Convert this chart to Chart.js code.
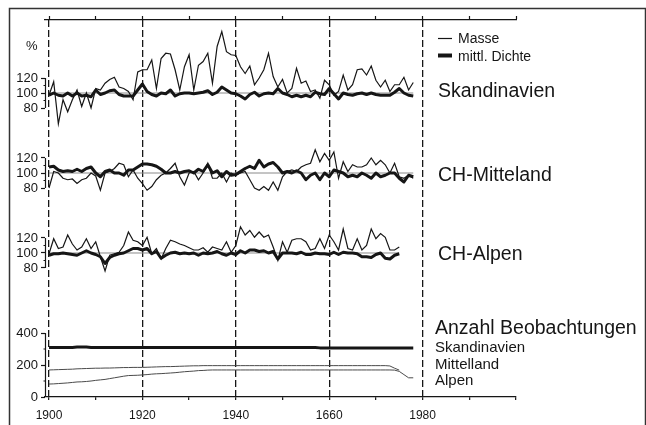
<!DOCTYPE html>
<html>
<head>
<meta charset="utf-8">
<script src="https://cdn.jsdelivr.net/npm/chart.js@4/dist/chart.umd.min.js"></script>
<style>
  html, body { margin: 0; padding: 0; background: #fff; }
  #wrap { width: 646px; height: 425px; }
</style>
</head>
<body>
<div id="wrap"><canvas id="chart" width="646" height="425"></canvas></div>
<script>
// years of the series
const years = [1900,1901,1902,1903,1904,1905,1906,1907,1908,1909,
  1910,1911,1912,1913,1914,1915,1916,1917,1918,1919,
  1920,1921,1922,1923,1924,1925,1926,1927,1928,1929,
  1930,1931,1932,1933,1934,1935,1936,1937,1938,1939,
  1940,1941,1942,1943,1944,1945,1946,1947,1948,1949,
  1950,1951,1952,1953,1954,1955,1956,1957,1958,1959,
  1960,1961,1962,1963,1964,1965,1966,1967,1968,1969,
  1970,1971,1972,1973,1974,1975,1976,1977,1978];

// Skandinavien (%)
const skandMasse = [97,115,59,91,75,91,104,82,100,80,
  106,104,113,118,121,108,106,102,91,128,
  131,131,144,106,146,153,152,131,104,135,
  151,104,137,142,153,113,162,182,155,151,
  150,135,126,136,111,120,131,153,122,108,
  118,100,106,133,113,116,102,104,93,117,
  111,97,102,124,104,111,131,132,124,136,
  117,108,117,102,111,111,121,104,114];
const skandDichte = [97,100,97,96,100,96,100,96,97,95,
  104,98,100,103,104,98,96,96,96,104,
  112,102,98,96,100,99,104,96,99,100,
  100,99,100,101,103,98,101,108,104,100,
  99,96,92,98,101,96,99,100,99,106,
  100,98,95,97,95,97,95,101,99,98,
  106,99,92,100,98,97,99,100,98,100,
  98,97,97,97,101,106,100,97,96];

// CH-Mitteland (%)
const mittMasse = [80,102,100,93,91,92,86,91,93,100,
  96,77,100,102,106,113,111,95,104,93,
  86,77,82,91,97,100,106,113,95,84,
  100,102,91,100,113,93,93,100,88,100,
  97,100,102,91,80,77,82,77,88,77,
  95,102,104,102,108,111,113,131,115,126,
  117,128,93,115,102,111,108,108,111,120,
  111,117,111,100,113,95,93,97,93];
const mittDichte = [108,109,104,102,103,102,105,102,106,108,
  100,95,102,104,100,100,97,104,104,108,
  112,112,111,109,105,100,100,102,100,102,
  103,100,105,102,111,100,103,95,102,97,
  98,102,106,109,106,117,108,112,114,108,
  100,102,100,103,100,91,97,100,91,100,
  95,104,102,100,95,97,95,100,97,93,
  100,95,97,100,100,93,88,97,95];

// CH-Alpen (%)
const alpMasse = [99,119,106,108,124,112,104,108,119,106,
  115,95,76,97,99,101,110,128,117,115,
  110,121,99,106,92,106,117,115,112,110,
  107,104,104,107,101,108,106,104,115,101,
  110,135,124,130,121,128,121,124,108,90,
  115,101,117,119,119,115,104,106,119,106,
  124,115,104,132,106,104,119,104,110,132,
  119,126,121,104,104,108,null,null,null];
const alpDichte = [97,99,99,100,99,98,97,100,103,100,
  98,95,86,94,97,99,100,103,106,106,
  104,106,99,102,93,97,100,101,99,100,
  99,100,97,100,99,100,102,99,97,100,
  98,103,100,104,104,102,103,100,102,92,
  100,100,100,99,101,98,98,100,99,99,
  98,101,98,101,100,100,99,95,95,94,
  98,100,93,92,97,99,null,null,null];

// Anzahl Beobachtungen
const nSkand = [310,310,310,310,310,310,312,312,312,310,
  310,310,310,310,310,310,310,310,310,310,
  310,310,310,310,310,310,310,310,310,310,
  310,310,310,310,310,310,310,310,310,310,
  310,310,310,310,310,310,310,310,310,310,
  310,310,310,310,310,310,310,310,307,307,
  307,307,307,307,307,307,307,307,307,307,
  307,307,307,307,307,307,307,307,307];
const nMitt = [169,170,171,172,173,174,176,177,178,179,
  180,180,181,181,182,183,184,184,185,185,
  185,186,187,188,189,190,190,191,192,193,
  194,195,195,196,196,196,196,196,196,196,
  196,196,196,196,196,196,196,196,196,196,
  196,196,196,196,196,196,196,196,196,196,
  196,196,196,196,196,196,196,196,196,196,
  196,196,196,194,180,168,null,null,null];
const nAlp = [81,82,84,86,88,91,94,95,97,100,
  104,107,110,115,120,125,130,134,135,136,
  138,140,143,145,146,148,150,152,155,158,
  160,162,165,166,168,169,169,169,169,169,
  169,169,169,169,169,169,169,169,169,169,
  169,169,169,169,169,169,169,169,169,169,
  169,169,169,169,169,169,169,169,169,169,
  169,169,169,169,168,160,140,120,120];

// 100 % reference lines
const refSkand = [[1900, 100], [1978, 100]];
const refMitt = [[1900, 100], [1978, 100]];
const refAlp = [[1900, 100], [1975, 100]];

// axes
const axisYears = [1900,1910,1920,1930,1940,1950,1960,1970,1980,1990,2000];
const dashYears = [1900,1920,1940,1960,1980];
const xLabels = {1900: '1900', 1920: '1920', 1940: '1940', 1960: '1660', 1980: '1980'};
const pctTicks = [80, 100, 120];
const countTicks = [0, 200, 400];

const FONT = "'Liberation Sans', Arial, Helvetica, sans-serif";
const INK = '#161616';

const pts = (vals) => years.map((y, i) => ({x: y, y: vals[i]}));
const refPts = (r) => r.map(p => ({x: p[0], y: p[1]}));

const thin = (vals, axis) => ({data: pts(vals), yAxisID: axis, borderColor: INK, borderWidth: 1.2, pointRadius: 0, tension: 0, spanGaps: false});
const thick = (vals, axis) => ({data: pts(vals), yAxisID: axis, borderColor: INK, borderWidth: 3, pointRadius: 0, tension: 0, borderJoinStyle: 'round', spanGaps: false});
const ref = (r, axis) => ({data: refPts(r), yAxisID: axis, borderColor: '#8a8a8a', borderWidth: 1, pointRadius: 0});

const pctAxis = (weight, stackWeight, min, max) => ({
  type: 'linear', position: 'left', stack: 'panels', weight: weight, stackWeight: stackWeight,
  min: min, max: max,
  afterBuildTicks: s => { s.ticks = pctTicks.map(v => ({value: v})); },
  afterFit: s => { s.width = 45; },
  ticks: {font: {family: FONT, size: 13}, color: INK, padding: 3, autoSkip: false},
  grid: {drawOnChartArea: false, tickLength: 4, tickColor: INK, tickWidth: 1.2},
  border: {display: false}
});

const brackets = [
  {id: 'ySk', lo: 80, hi: 120, minor: [90, 110]},
  {id: 'yMi', lo: 80, hi: 120, minor: [90, 110]},
  {id: 'yAl', lo: 80, hi: 120, minor: [90, 110]},
  {id: 'yAn', lo: 0, hi: 400, minor: [100, 300]}
];

const decor = {
  id: 'decor',
  beforeDraw(chart) {
    const ctx = chart.ctx;
    ctx.save();
    ctx.strokeStyle = '#333';
    ctx.lineWidth = 1.5;
    ctx.strokeRect(9.5, 8.5, 636, 440);
    ctx.restore();
  },
  afterDraw(chart) {
    const ctx = chart.ctx, area = chart.chartArea;
    ctx.save();
    ctx.strokeStyle = INK;
    ctx.lineWidth = 1.2;
    brackets.forEach(b => {
      const s = chart.scales[b.id];
      const x = Math.round(area.left) + 0.5;
      ctx.beginPath();
      ctx.moveTo(x, s.getPixelForValue(b.lo));
      ctx.lineTo(x, s.getPixelForValue(b.hi));
      b.minor.forEach(v => {
        const y = s.getPixelForValue(v);
        ctx.moveTo(x - 2, y);
        ctx.lineTo(x, y);
      });
      ctx.stroke();
    });

    ctx.fillStyle = INK;
    ctx.textAlign = 'left';
    ctx.textBaseline = 'alphabetic';
    ctx.font = '13px ' + FONT;
    ctx.fillText('%', 26, 50);

    // legend
    ctx.beginPath();
    ctx.lineWidth = 1.2;
    ctx.moveTo(438, 38.5); ctx.lineTo(452, 38.5);
    ctx.stroke();
    ctx.beginPath();
    ctx.lineWidth = 4;
    ctx.moveTo(438, 55.5); ctx.lineTo(452, 55.5);
    ctx.stroke();
    ctx.font = '14px ' + FONT;
    ctx.fillText('Masse', 458, 43);
    ctx.fillText('mittl. Dichte', 458, 61);

    ctx.font = '19.5px ' + FONT;
    ctx.fillText('Skandinavien', 438, 97);
    ctx.fillText('CH-Mitteland', 438, 181);
    ctx.fillText('CH-Alpen', 438, 260);
    ctx.fillText('Anzahl Beobachtungen', 435, 334);
    ctx.font = '15px ' + FONT;
    ctx.fillText('Skandinavien', 435, 352);
    ctx.fillText('Mittelland', 435, 369);
    ctx.fillText('Alpen', 435, 385);
    ctx.restore();
  }
};

new Chart(document.getElementById('chart'), {
  type: 'line',
  data: {
    datasets: [
      thin(skandMasse, 'ySk'), thick(skandDichte, 'ySk'), ref(refSkand, 'ySk'),
      thin(mittMasse, 'yMi'), thick(mittDichte, 'yMi'), ref(refMitt, 'yMi'),
      thin(alpMasse, 'yAl'), thick(alpDichte, 'yAl'), ref(refAlp, 'yAl'),
      thick(nSkand, 'yAn'),
      {data: pts(nMitt), yAxisID: 'yAn', borderColor: '#4a4a4a', borderWidth: 1, pointRadius: 0},
      {data: pts(nAlp), yAxisID: 'yAn', borderColor: '#4a4a4a', borderWidth: 1, pointRadius: 0}
    ]
  },
  options: {
    responsive: false,
    animation: false,
    events: [],
    layout: {padding: {left: 0, right: 130, top: 16, bottom: 0}},
    plugins: {legend: {display: false}, tooltip: {enabled: false}},
    scales: {
      x: {
        type: 'linear', position: 'bottom', min: 1899.14, max: 2000,
        afterBuildTicks: s => { s.ticks = axisYears.map(v => ({value: v})); },
        afterFit: s => { s.height = 28; },
        ticks: {
          autoSkip: false, maxRotation: 0, padding: 8, color: INK,
          font: {family: FONT, size: 12},
          callback: v => xLabels[v] || ''
        },
        grid: {
          drawOnChartArea: true, tickLength: 3, tickColor: INK, tickWidth: 1.2, lineWidth: 1.3,
          color: c => (c.tick && dashYears.includes(c.tick.value)) ? INK : 'rgba(0,0,0,0)'
        },
        border: {display: true, color: INK, width: 1.3, dash: [7, 3]}
      },
      x2: {
        type: 'linear', position: 'top', min: 1899.14, max: 2000,
        afterBuildTicks: s => { s.ticks = axisYears.map(v => ({value: v})); },
        afterFit: s => { s.height = 4; },
        ticks: {display: false},
        grid: {drawOnChartArea: false, tickLength: 4, tickColor: INK, tickWidth: 1.2},
        border: {display: true, color: INK, width: 1.3}
      },
      ySk: pctAxis(4, 113, 46.67, 197.33),
      yMi: pctAxis(3, 80, 46.67, 153.33),
      yAl: pctAxis(2, 87, 37.33, 153.33),
      yAn: {
        type: 'linear', position: 'left', stack: 'panels', weight: 1, stackWeight: 97,
        min: 0, max: 606.25,
        afterBuildTicks: s => { s.ticks = countTicks.map(v => ({value: v})); },
        afterFit: s => { s.width = 45; },
        ticks: {font: {family: FONT, size: 13}, color: INK, padding: 3, autoSkip: false},
        grid: {drawOnChartArea: false, tickLength: 4, tickColor: INK, tickWidth: 1.2},
        border: {display: false}
      }
    }
  },
  plugins: [decor]
});
</script>
</body>
</html>
